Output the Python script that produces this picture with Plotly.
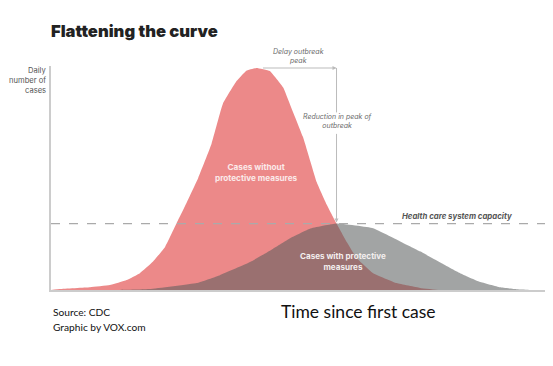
import plotly.graph_objects as go

# Curve without protective measures (time %, daily cases % of peak)
t_red = [0, 1.8, 7.9, 11.9, 15.3, 18.0, 20.6, 23.1, 25.4, 27.5, 29.8, 32.5, 34.8, 37.6, 39.5, 41.6,
         44.3, 47.0, 48.4, 51.0, 53.8, 55.8, 57.8, 59.9, 61.9, 65.2, 70.0, 74.7, 78.7, 100]
v_red = [0, 0.4, 1.2, 2.2, 4.5, 7.6, 12.7, 19.4, 29.9, 39.5, 50.5, 65.9, 83.9, 94.2, 98.7, 100,
         98.6, 91.2, 83.5, 69.0, 48.5, 38.5, 29.9, 21.5, 14.3, 7.6, 3.1, 0.9, 0, 0]

# Curve with protective measures
t_gray = [0, 14, 20.0, 29.5, 34.2, 40.3, 44.9, 48.4, 52.4, 57.8, 65.2, 70.6, 74.7, 78.7, 82.8,
          86.8, 90.9, 94.3, 97, 100]
v_gray = [0, 0, 0.4, 3.1, 6.7, 12.6, 18.5, 23.3, 27.6, 29.9, 27.8, 22.0, 17.4, 12.5, 7.6,
          3.7, 1.2, 0.3, 0, 0]

capacity = 29.9
peak_red_t, peak_red_v = 41.6, 100
peak_gray_t = 57.8

y_label_lines = ["Daily", "number of", "cases"]

# the page adds an 8px body margin, so the figure is drawn 8px smaller and shifted
OFF = 8
W, H = 553 - OFF, 366 - OFF
L, R, T, B = 51, 545, 66, 290  # reference pixel positions of the plot area


def px(x):
    return (x - L) / (R - L)


def py(y):
    return (B - y) / (B - T)


fig = go.Figure()
fig.add_trace(go.Scatter(x=t_red, y=v_red, mode="lines", line=dict(width=0, shape="spline", smoothing=0.3),
                         fill="tozeroy", fillcolor="rgb(236,137,137)", hoverinfo="skip"))
fig.add_trace(go.Scatter(x=t_gray, y=v_gray, mode="lines", line=dict(width=0, shape="spline", smoothing=0.3),
                         fill="tozeroy", fillcolor="rgba(90,92,92,0.56)", hoverinfo="skip"))

# capacity dashed line
fig.add_shape(type="line", x0=0, x1=100.5, y0=capacity, y1=capacity, xref="x", yref="y",
              line=dict(color="#aaaaaa", width=1.2, dash="dash"))

# delay arrow
fig.add_annotation(x=peak_gray_t, y=peak_red_v, ax=peak_red_t + 1, ay=peak_red_v, xref="x", yref="y",
                   axref="x", ayref="y", text="", showarrow=True, arrowhead=2, arrowsize=0.8,
                   arrowwidth=1, arrowcolor="#bbbbbb")
# reduction arrow (upper segment + lower segment with head)
fig.add_shape(type="line", x0=peak_gray_t, x1=peak_gray_t, y0=peak_red_v, y1=80, xref="x", yref="y",
              line=dict(color="#bbbbbb", width=1))
fig.add_annotation(x=peak_gray_t, y=capacity + 0.5, ax=peak_gray_t, ay=71, xref="x", yref="y",
                   axref="x", ayref="y", text="", showarrow=True, arrowhead=2, arrowsize=0.8,
                   arrowwidth=1, arrowcolor="#bbbbbb")

ann_font = dict(family="Inter, Roboto, sans-serif", size=7, color="#6a6a6a", style="italic")
fig.add_annotation(x=px(298), y=py(55.5), xref="paper", yref="paper", text="Delay outbreak<br>peak",
                   showarrow=False, font=ann_font, align="center", yanchor="middle")
fig.add_annotation(x=px(338), y=py(121.5), xref="paper", yref="paper", text="Reduction in peak of<br>outbreak",
                   showarrow=False, font=ann_font, align="center", yanchor="middle")
fig.add_annotation(x=px(514), y=py(216), xref="paper", yref="paper", text="<b>Health care system capacity</b>",
                   showarrow=False, xanchor="right", yanchor="middle",
                   font=dict(family="Inter, Roboto, sans-serif", size=7.8, color="#555555", style="italic"))
fig.add_annotation(x=px(256), y=py(172.5), xref="paper", yref="paper",
                   text="<b>Cases without<br>protective measures</b>", showarrow=False, align="center",
                   yanchor="middle", font=dict(family="Inter, Roboto, sans-serif", size=8.2, color="#fbeaea"))
fig.add_annotation(x=px(343), y=py(261), xref="paper", yref="paper",
                   text="<b>Cases with protective<br>measures</b>", showarrow=False, align="center",
                   yanchor="middle", font=dict(family="Inter, Roboto, sans-serif", size=8.1, color="#f3eeee"))

# title
fig.add_annotation(x=px(49), y=py(31), xref="paper", yref="paper", text="Flattening the curve",
                   showarrow=False, xanchor="left", yanchor="middle",
                   font=dict(family="Inter, Roboto, sans-serif", size=16.6, color="#222222", weight=900))
# y axis label, one annotation per line
for i, line_text in enumerate(y_label_lines):
    fig.add_annotation(x=px(48), y=py(70 + 10.3 * i), xref="paper", yref="paper", xanchor="right",
                       yanchor="middle", text=line_text, showarrow=False, align="right",
                       font=dict(family="Inter, Roboto, sans-serif", size=7.6, color="#555555"))
fig.add_annotation(x=px(279), y=py(311), text="Time since first case", showarrow=False, xanchor="left",
                   yanchor="middle", xref="paper", yref="paper",
                   font=dict(family="Lato, sans-serif", size=17.5, color="#111111"))
fig.add_annotation(x=px(51), y=py(312), text="Source: CDC", showarrow=False, xanchor="left", yanchor="middle",
                   xref="paper", yref="paper", font=dict(family="Lato, sans-serif", size=10.2, color="#111111"))
fig.add_annotation(x=px(51), y=py(327), text="Graphic by VOX.com", showarrow=False, xanchor="left",
                   yanchor="middle", xref="paper", yref="paper",
                   font=dict(family="Lato, sans-serif", size=10.2, color="#111111"))

# right border of the image
fig.add_shape(type="line", x0=px(550), x1=px(550), y0=py(366), y1=py(0), xref="paper", yref="paper",
              line=dict(color="#cccccc", width=1))

fig.update_layout(
    width=W, height=H,
    margin=dict(l=L - OFF, r=W - (R - OFF), t=T - OFF, b=H - (B - OFF), autoexpand=False),
    paper_bgcolor="white", plot_bgcolor="white",
    showlegend=False,
    xaxis=dict(range=[0, 100], showgrid=False, zeroline=False, showticklabels=False, ticks="",
               showline=True, linecolor="#cccccc", linewidth=1.5, fixedrange=True),
    yaxis=dict(range=[0, 100.9], showgrid=False, zeroline=False, showticklabels=False, ticks="",
               showline=True, linecolor="#cccccc", linewidth=1.5, fixedrange=True),
)

fig.write_html("out.html")
